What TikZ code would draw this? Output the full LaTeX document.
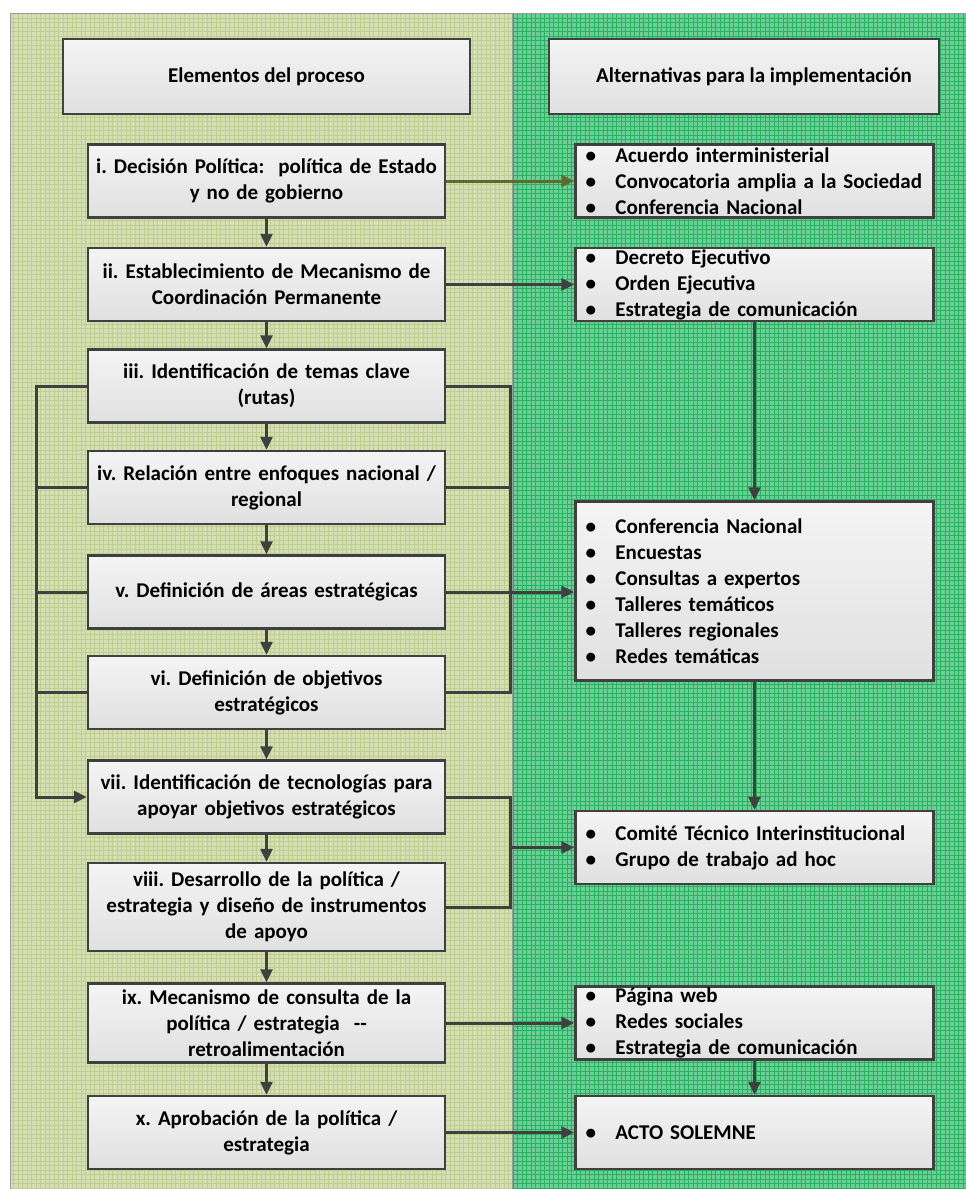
\documentclass[tikz,border=0pt]{standalone}
\usepackage{fontspec}
\setmainfont{Carlito}
\usetikzlibrary{arrows.meta,positioning,calc}
\definecolor{PanelOlive}{HTML}{D6DEB6}
\definecolor{GridOlive}{HTML}{BFCE8E}
\definecolor{PanelGreen}{HTML}{6DCD96}
\definecolor{GridGreen}{HTML}{26B25F}
\definecolor{PanelRule}{HTML}{9A9A9A}
\definecolor{BoxRule}{HTML}{404040}
\definecolor{BoxTop}{HTML}{F4F4F4}
\definecolor{BoxBottom}{HTML}{E0E0E0}
\definecolor{ArrOlive}{HTML}{5E6A2E}
\newcommand{\itm}[1]{\makebox[30pt][l]{\textbullet}#1}
\frenchspacing

\begin{document}
\begin{tikzpicture}[x=1pt, y=-1pt,
  box/.style={draw=BoxRule, line width=2.5pt, top color=BoxTop, bottom color=BoxBottom,
              inner sep=0pt, font=\bfseries\fontsize{21}{26}\selectfont},
  head/.style={box, minimum height=75pt, align=center},
  stepbox/.style={box, minimum width=357pt, minimum height=73pt, text width=350pt, align=center},
  listbox/.style={box, minimum width=358pt, minimum height=73pt, text width=338pt, align=left},
  bus/.style={draw=BoxRule, line width=3pt},
  link/.style={bus, -{Triangle[length=13pt,width=12pt]}}]
  \useasboundingbox (0,0) rectangle (966,1189);

  % background panels
  \fill[PanelOlive] (10,13) rectangle (512,1189);
  \draw[GridOlive, line width=0.4pt, step=4.5pt] (10,13) grid (512,1189);
  \fill[PanelGreen] (512,13) rectangle (966,1189);
  \draw[GridGreen, line width=0.4pt, step=4.5pt] (512,13) grid (966,1189);
  \draw[PanelRule, line width=0.8pt] (10,1189) -- (10,13) -- (966,13);
  \draw[PanelRule, line width=0.8pt] (512,13) -- (512,1189);

  % headers
  \node[head, minimum width=407pt] (hL) at (266.5,76.5) {Elementos del proceso};
  \node[head, minimum width=390pt] (hR) at (744,76.5) {\hspace*{20pt}Alternativas para la implementaci\'on};

  % process column
  \node[stepbox, below=28pt of hL] (i) {i. Decisi\'on Pol\'itica:\ \ pol\'itica de Estado\\ y no de gobierno};
  \node[stepbox, below=28pt of i] (ii) {ii. Establecimiento de Mecanismo de\\ Coordinaci\'on Permanente};
  \node[stepbox, below=26pt of ii] (iii) {iii. Identificaci\'on de temas clave\\ (rutas)};
  \node[stepbox, below=26pt of iii] (iv) {iv. Relaci\'on entre enfoques nacional /\\ regional};
  \node[stepbox, below=29pt of iv] (v) {v. Definici\'on de \'areas estrat\'egicas\hspace*{36pt}};
  \node[stepbox, below=25pt of v] (vi) {vi. Definici\'on de objetivos\\ estrat\'egicos};
  \node[stepbox, below=29pt of vi] (vii) {vii. Identificaci\'on de tecnolog\'ias para\\ apoyar objetivos estrat\'egicos};
  \node[stepbox, below=27pt of vii, minimum height=88pt] (viii) {viii. Desarrollo de la pol\'itica /\\ estrategia y dise\~no de instrumentos\\ de apoyo};
  \node[stepbox, below=30pt of viii, minimum height=79pt] (ix) {ix. Mecanismo de consulta de la\\ pol\'itica / estrategia\ \ -{}-\\ retroalimentaci\'on};
  \node[stepbox, below=31pt of ix] (x) {x. Aprobaci\'on de la pol\'itica /\\ estrategia};

  % alternatives column
  \node[listbox, right=128pt of i] (alt1) {\itm{Acuerdo interministerial}\\ \itm{Convocatoria amplia a la Sociedad}\\ \itm{Conferencia Nacional}};
  \node[listbox, right=128pt of ii] (alt2) {\itm{Decreto Ejecutivo}\\ \itm{Orden Ejecutiva}\\ \itm{Estrategia de comunicaci\'on}};
  \node[listbox, below=178pt of alt2, minimum height=179pt] (alt3) {\itm{Conferencia Nacional}\\ \itm{Encuestas}\\ \itm{Consultas a expertos}\\ \itm{Talleres tem\'aticos}\\ \itm{Talleres regionales}\\ \itm{Redes tem\'aticas}};
  \node[listbox, below=128pt of alt3] (alt4) {\itm{Comit\'e T\'ecnico Interinstitucional}\\ \itm{Grupo de trabajo ad hoc}};
  \node[listbox, right=128pt of ix] (alt5) {\itm{P\'agina web}\\ \itm{Redes sociales}\\ \itm{Estrategia de comunicaci\'on}};
  \node[listbox, right=128pt of x] (alt6) {\itm{ACTO SOLEMNE}};

  % flow down the process
  \foreach \a/\b in {i/ii,ii/iii,iii/iv,iv/v,v/vi,vi/vii,vii/viii,viii/ix,ix/x}
    \draw[link] (\a) -- (\b);
  \draw[link] (alt2) -- (alt3);
  \draw[link] (alt3) -- (alt4);
  \draw[link] (alt5) -- (alt6);

  % horizontal links
  \draw[link, draw=ArrOlive] (i) -- (alt1);
  \draw[link] (ii) -- (alt2);
  \draw[link] (ix) -- (alt5);
  \draw[link] (x) -- (alt6);

  % left bus iii..vi -> vii
  \coordinate (lbus) at (36,0);
  \draw[link] (iii.west) -- (iii.west -| lbus) -- (vii.west -| lbus) -- (vii.west);
  \foreach \n in {iv,v,vi}
    \draw[bus] (\n.west) -- (\n.west -| lbus);

  % right buses
  \coordinate (rbus) at (510,0);
  \draw[bus] (iii.east) -- (iii.east -| rbus) -- (vi.east -| rbus) -- (vi.east);
  \draw[bus] (iv.east) -- (iv.east -| rbus);
  \draw[link] (v.east) -- (v.east -| alt3.west);
  \draw[bus] (vii.east) -- (vii.east -| rbus) -- (viii.east -| rbus) -- (viii.east);
  \draw[link] (rbus |- alt4.west) -- (alt4.west);
\end{tikzpicture}
\end{document}
